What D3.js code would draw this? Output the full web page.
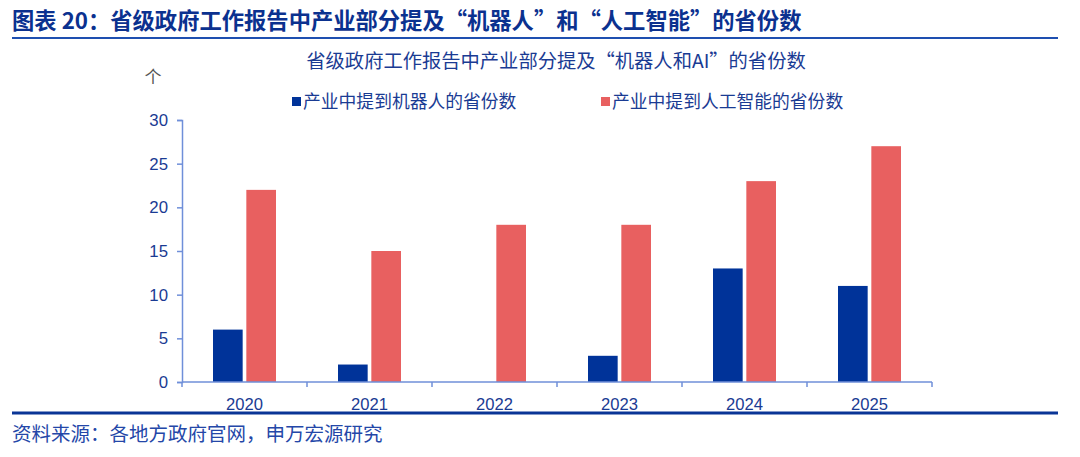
<!DOCTYPE html>
<html>
<head>
<meta charset="utf-8">
<title>省级政府工作报告中产业部分提及机器人和AI的省份数</title>
<script src="https://d3js.org/d3.v7.min.js"></script>
<style>
  body { margin: 0; background: #fff; }
  svg text { font-family: "Noto Sans CJK SC", "Noto Sans", sans-serif; }
</style>
</head>
<body>
<div id="chart"></div>
<script>
// Data
const years = ["2020", "2021", "2022", "2023", "2024", "2025"];
const robotCounts = [6, 2, 0, 3, 13, 11];
const aiCounts = [22, 15, 18, 18, 23, 27];
const seriesNames = ["产业中提到机器人的省份数", "产业中提到人工智能的省份数"];
const yTicks = [0, 5, 10, 15, 20, 25, 30];

const width = 1080, height = 457;
const navy = "#003399", red = "#e86060", axisBlue = "#6f8fd9", textBlue = "#1a3b93";
const numFont = "Liberation Sans, Arial, sans-serif";

const svg = d3.select("#chart").append("svg")
  .attr("width", width).attr("height", height);

// Header
svg.append("text")
  .attr("x", 12).attr("y", 29)
  .attr("font-size", 22.3).attr("font-weight", "bold").attr("fill", "#0b318f")
  .text("图表 20：省级政府工作报告中产业部分提及“机器人”和“人工智能”的省份数");
svg.append("line")
  .attr("x1", 12).attr("x2", 1058).attr("y1", 38).attr("y2", 38)
  .attr("stroke", "#1e4fb0").attr("stroke-width", 2);

// Chart title
svg.append("text")
  .attr("x", 556).attr("y", 68).attr("text-anchor", "middle")
  .attr("font-size", 19.3).attr("fill", textBlue)
  .text("省级政府工作报告中产业部分提及“机器人和AI”的省份数");

// Unit
svg.append("text")
  .attr("x", 153).attr("y", 83).attr("text-anchor", "middle")
  .attr("font-size", 17).attr("fill", "#555")
  .text("个");

// Scales
const x = d3.scaleBand().domain(years).range([182, 932]);
const sub = d3.scaleBand().domain([0, 1]).range([31, 94]).paddingInner(0.11);
const y = d3.scaleLinear().domain([0, 30]).range([382, 120]);

// Bars
const g = svg.append("g");
const groups = g.selectAll("g.year").data(years).enter().append("g")
  .attr("class", "year")
  .attr("transform", d => `translate(${x(d)},0)`);

groups.append("rect")
  .attr("x", sub(0)).attr("width", sub.bandwidth())
  .attr("y", (d, i) => y(robotCounts[i]))
  .attr("height", (d, i) => y(0) - y(robotCounts[i]))
  .attr("fill", navy);

groups.append("rect")
  .attr("x", sub(1)).attr("width", sub.bandwidth())
  .attr("y", (d, i) => y(aiCounts[i]))
  .attr("height", (d, i) => y(0) - y(aiCounts[i]))
  .attr("fill", red);

// Y axis
const yAxis = svg.append("g")
  .attr("transform", "translate(182,0)")
  .call(d3.axisLeft(y).tickValues(yTicks).tickSize(5).tickPadding(9));
yAxis.select(".domain").attr("stroke", axisBlue).attr("stroke-width", 1.5);
yAxis.selectAll(".tick line").attr("stroke", axisBlue).attr("stroke-width", 1.5);
yAxis.selectAll(".tick text").attr("fill", textBlue).attr("font-size", 16.8)
  .style("font-family", numFont);

// X axis: ticks at band boundaries
const xAxis = svg.append("g")
  .attr("transform", "translate(0,382)");
xAxis.append("line")
  .attr("x1", 182).attr("x2", 932)
  .attr("stroke", axisBlue).attr("stroke-width", 1.5);
const bounds = years.map(d => x(d)).concat([x.range()[1]]);
xAxis.selectAll("line.tk").data(bounds).enter().append("line")
  .attr("class", "tk")
  .attr("x1", d => d).attr("x2", d => d).attr("y1", 0).attr("y2", 5)
  .attr("stroke", axisBlue).attr("stroke-width", 1.5);
xAxis.selectAll("text").data(years).enter().append("text")
  .attr("x", d => x(d) + x.bandwidth() / 2).attr("y", 28)
  .attr("text-anchor", "middle")
  .attr("font-size", 16.6).attr("fill", textBlue)
  .style("font-family", numFont)
  .text(d => d);

// Legend
const legendX = [292, 601];
const legendColors = [navy, red];
const legend = svg.selectAll("g.legend").data(seriesNames).enter().append("g")
  .attr("class", "legend")
  .attr("transform", (d, i) => `translate(${legendX[i]},97)`);
legend.append("rect")
  .attr("x", 0).attr("y", 0).attr("width", 9).attr("height", 9)
  .attr("fill", (d, i) => legendColors[i]);
legend.append("text")
  .attr("x", 11).attr("y", 11)
  .attr("font-size", 17.8).attr("fill", textBlue)
  .text(d => d);

// Footer
svg.append("line")
  .attr("x1", 12).attr("x2", 1058).attr("y1", 413).attr("y2", 413)
  .attr("stroke", "#0a3596").attr("stroke-width", 3);
svg.append("text")
  .attr("x", 12).attr("y", 441)
  .attr("font-size", 19.5).attr("fill", "#2447a8")
  .text("资料来源：各地方政府官网，申万宏源研究");
</script>
</body>
</html>
